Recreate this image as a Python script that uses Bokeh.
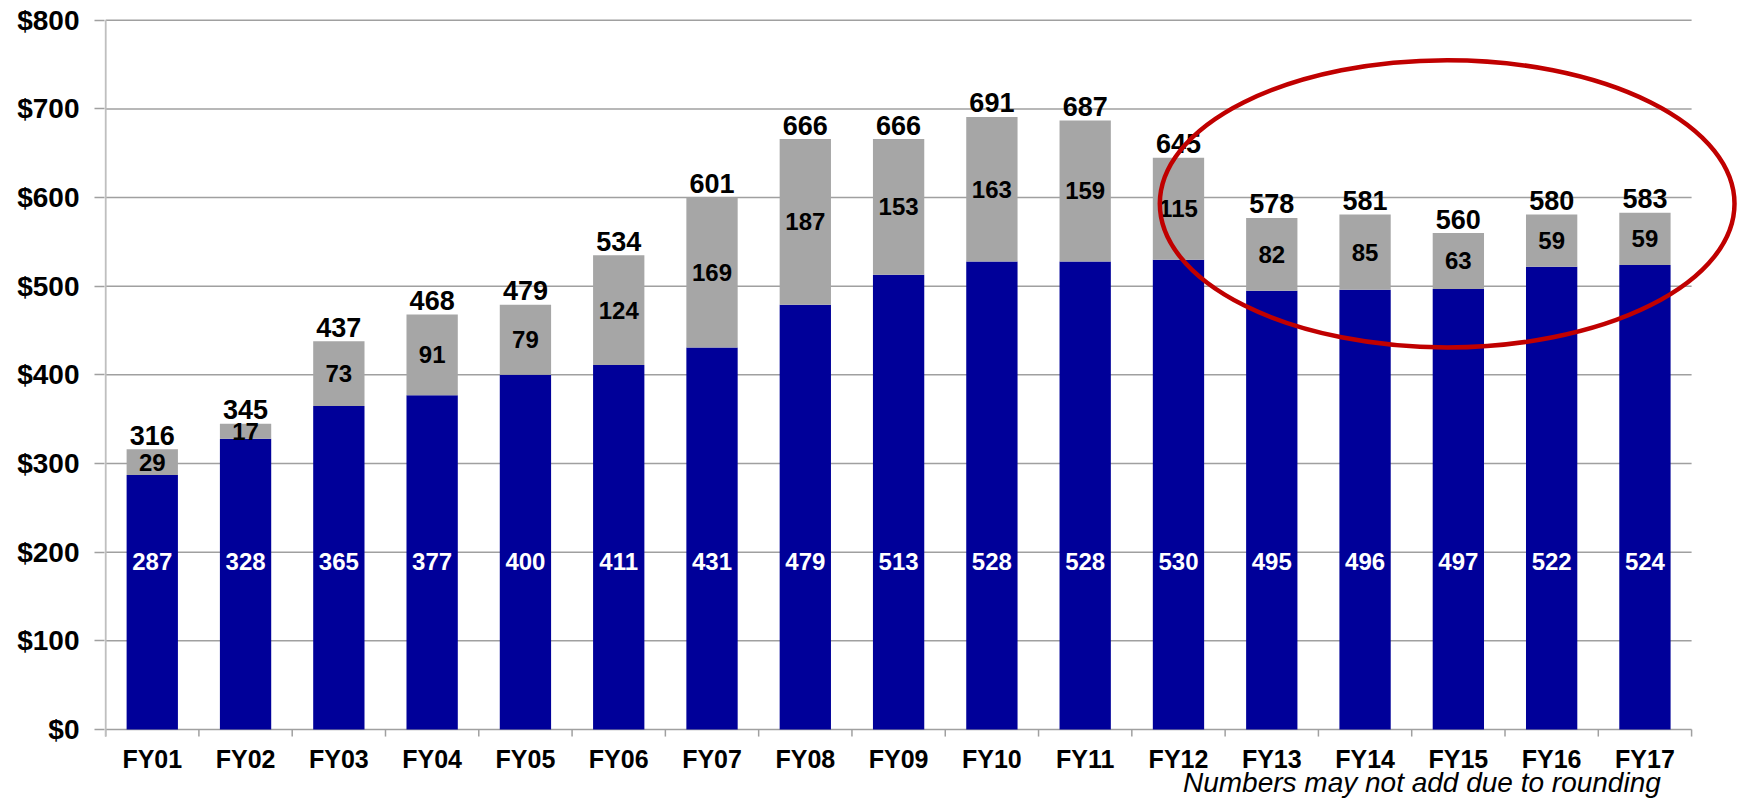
from bokeh.plotting import figure
from bokeh.models import Range1d, FixedTicker, PrintfTickFormatter
from bokeh.core.properties import value
from bokeh.embed import file_html
from bokeh.resources import INLINE

# ---- data ----
years = ["FY01", "FY02", "FY03", "FY04", "FY05", "FY06", "FY07", "FY08", "FY09",
         "FY10", "FY11", "FY12", "FY13", "FY14", "FY15", "FY16", "FY17"]
base = [287, 328, 365, 377, 400, 411, 431, 479, 513, 528, 528, 530, 495, 496, 497, 522, 524]
extra = [29, 17, 73, 91, 79, 124, 169, 187, 153, 163, 159, 115, 82, 85, 63, 59, 59]
totals = [316, 345, 437, 468, 479, 534, 601, 666, 666, 691, 687, 645, 578, 581, 560, 580, 583]
y_ticks = [0, 100, 200, 300, 400, 500, 600, 700, 800]
note = "Numbers may not add due to rounding"

FONT = "Liberation Sans"
BLUE = "#000099"
GRAY = "#A6A6A6"
GRID = "#A0A0A0"

n = len(years)
xs = [i + 0.5 for i in range(n)]
tops = [b + e for b, e in zip(base, extra)]
mids = [b + e / 2 for b, e in zip(base, extra)]
bounds = list(range(n + 1))

p = figure(width=1741, height=799,
           x_range=Range1d(-0.012, 17.535), y_range=Range1d(-79, 802),
           x_axis_location=None,
           output_backend="svg", toolbar_location=None,
           min_border_left=104, min_border_right=0,
           min_border_top=18, min_border_bottom=0)
p.outline_line_color = None
p.grid.visible = False
p.background_fill_color = "white"
p.border_fill_color = "white"

# gridlines (only across the category area)
p.segment(x0=[0] * len(y_ticks), x1=[n] * len(y_ticks), y0=y_ticks, y1=y_ticks,
          line_color=GRID, line_width=1.5)
# category boundary tick marks below the baseline
p.segment(x0=bounds, x1=bounds, y0=[0] * (n + 1), y1=[-8] * (n + 1),
          line_color=GRID, line_width=1.5)
# value axis line
p.segment(x0=[0], x1=[0], y0=[-8], y1=[y_ticks[-1]], line_color="#BFBFBF", line_width=2)

# bars
p.vbar(x=xs, width=0.55, bottom=0, top=base, fill_color=BLUE, line_color=None)
p.vbar(x=xs, width=0.55, bottom=base, top=tops, fill_color=GRAY, line_color=None)

# value labels
p.text(x=xs, y=[189] * n, text=[str(v) for v in base], text_color="white",
       text_font=value(FONT), text_font_style="bold", text_font_size="24px",
       text_align="center", text_baseline="middle")
p.text(x=xs, y=mids, text=[str(v) for v in extra], text_color="black",
       text_font=value(FONT), text_font_style="bold", text_font_size="24px",
       text_align="center", text_baseline="middle")
p.text(x=xs, y=tops, text=[str(v) for v in totals], text_color="black",
       text_font=value(FONT), text_font_style="bold", text_font_size="27px",
       text_align="center", text_baseline="middle", y_offset=-14)

# category labels
p.text(x=xs, y=[0] * n, text=years, text_color="black",
       text_font=value(FONT), text_font_style="bold", text_font_size="25px",
       text_align="center", text_baseline="middle", y_offset=30)

# footnote
p.text(x=[16.67], y=[0], text=[note], text_color="black",
       text_font=value(FONT), text_font_style="italic", text_font_size="28px",
       text_align="right", text_baseline="middle", y_offset=53)

# highlight ellipse
p.ellipse(x=[14.38], y=[593], width=6.16, height=324, fill_color=None,
          line_color="#C00000", line_width=4.5)

# y axis
yax = p.yaxis[0]
yax.ticker = FixedTicker(ticks=y_ticks)
yax.formatter = PrintfTickFormatter(format="$%d")
yax.major_label_text_font = FONT
yax.major_label_text_font_style = "bold"
yax.major_label_text_font_size = "28px"
yax.major_label_text_color = "black"
yax.major_label_standoff = 15
yax.major_tick_out = 10
yax.major_tick_in = 0
yax.minor_tick_out = 0
yax.minor_tick_in = 0
yax.axis_line_color = None
yax.major_tick_line_color = GRID
yax.major_tick_line_width = 1.5

open("out.html", "w").write(file_html(p, INLINE))
